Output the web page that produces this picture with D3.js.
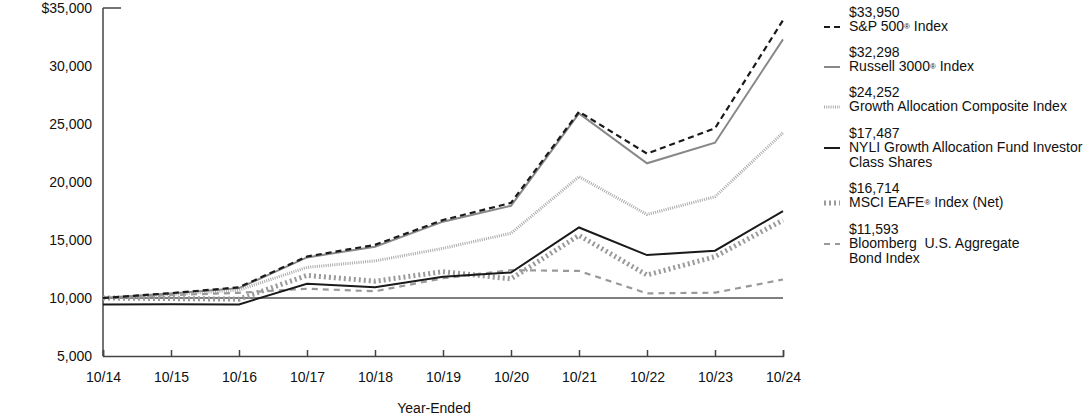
<html>
<head>
<meta charset="utf-8">
<style>
  body { margin: 0; background: #fff; }
  svg text { font-family: "Liberation Sans", Arial, sans-serif; fill: #111; }
</style>
</head>
<body>
<div id="chart"></div>
<script src="https://cdn.jsdelivr.net/npm/d3@7"></script>
<script>
// data
var years = ["10/14", "10/15", "10/16", "10/17", "10/18", "10/19", "10/20", "10/21", "10/22", "10/23", "10/24"]
var sp500 = [10000, 10420, 10920, 13580, 14580, 16720, 18200, 26060, 22450, 24630, 33950]
var russell = [10000, 10380, 10850, 13500, 14420, 16580, 17950, 25920, 21610, 23390, 32298]
var composite = [10000, 10300, 10690, 12640, 13200, 14280, 15580, 20460, 17200, 18730, 24252]
var fund = [9450, 9460, 9450, 11230, 10920, 11840, 12200, 16080, 13700, 14080, 17487]
var eafe = [10000, 9950, 9900, 11950, 11450, 12270, 11650, 15400, 11980, 13560, 16714]
var bond = [10000, 10250, 10450, 10800, 10580, 11700, 12400, 12330, 10400, 10460, 11593]
var yTicks = [5000, 10000, 15000, 20000, 25000, 30000, 35000]

var series = [
  {name: ["Bloomberg\u00a0 U.S. Aggregate", "Bond Index"], sup: null, end: "$11,593", values: bond, color: "#999", width: 2.2, dash: "6,5"},
  {name: ["MSCI EAFE", " Index (Net)"], sup: 0, end: "$16,714", values: eafe, color: "#9a9a9a", width: 5, dash: "2,3"},
  {name: ["Growth Allocation Composite Index"], sup: null, end: "$24,252", values: composite, color: "#aaa", width: 3, dash: "1,1.2"},
  {name: ["NYLI Growth Allocation Fund Investor", "Class Shares"], sup: null, end: "$17,487", values: fund, color: "#1a1a1a", width: 2, dash: null},
  {name: ["Russell 3000", " Index"], sup: 0, end: "$32,298", values: russell, color: "#888", width: 2, dash: null},
  {name: ["S&P 500", " Index"], sup: 0, end: "$33,950", values: sp500, color: "#1a1a1a", width: 2.2, dash: "6,4"}
]
var legendOrder = [5, 4, 2, 3, 1, 0]

var W = 1092, H = 417
var svg = d3.select("#chart").append("svg").attr("width", W).attr("height", H)

var x = d3.scalePoint().domain(years).range([103, 783])
var y = d3.scaleLinear().domain([5000, 35000]).range([356, 8])

// y labels
svg.selectAll(".ylab").data(yTicks).enter().append("text")
  .attr("x", 92).attr("y", d => y(d)).attr("dy", "0.35em")
  .attr("text-anchor", "end").style("font-size", "14px")
  .text(d => (d == 35000 ? "$" : "") + d3.format(",")(d))

// 10,000 baseline
svg.append("line").attr("x1", x(years[0])).attr("x2", x(years[years.length - 1]))
  .attr("y1", y(10000)).attr("y2", y(10000)).attr("stroke", "#555").attr("stroke-width", 1.5)

// axes
var xAxis = d3.axisBottom(x).tickSize(-6).tickPadding(16)
var gx = svg.append("g").attr("transform", "translate(0," + y(5000) + ")").call(xAxis)
gx.select(".domain").attr("stroke", "#444").attr("stroke-width", 1.5)
gx.selectAll(".tick line").attr("stroke", "#444").attr("stroke-width", 1.5)
gx.selectAll(".tick text").style("font-size", "14px").style("font-family", "Liberation Sans, Arial, sans-serif").attr("fill", "#111")

svg.append("line").attr("x1", 103).attr("x2", 103).attr("y1", y(35000)).attr("y2", y(5000))
  .attr("stroke", "#444").attr("stroke-width", 1.5)
svg.append("line").attr("x1", 103).attr("x2", 121).attr("y1", y(35000)).attr("y2", y(35000))
  .attr("stroke", "#444").attr("stroke-width", 1.5)

svg.append("text").attr("x", 434).attr("y", 413).attr("text-anchor", "middle")
  .style("font-size", "14px").text("Year-Ended")

// lines
var line = d3.line().x((d, i) => x(years[i])).y(d => y(d))
series.forEach(function(s) {
  svg.append("path").datum(s.values)
    .attr("fill", "none").attr("stroke", s.color).attr("stroke-width", s.width)
    .attr("stroke-dasharray", s.dash).attr("d", line)
})

// legend
var ly = [12, 52, 92, 133, 188, 229]
legendOrder.forEach(function(k, j) {
  var s = series[k]
  var g = svg.append("g")
  g.append("line").attr("x1", 824).attr("x2", 840).attr("y1", ly[j] + 15).attr("y2", ly[j] + 15)
    .attr("stroke", s.color).attr("stroke-width", s.width).attr("stroke-dasharray", s.dash)
  g.append("text").attr("x", 849).attr("y", ly[j]).attr("dy", "0.35em").style("font-size", "14px").text(s.end)
  if (s.sup === 0) {
    var t = g.append("text").attr("x", 849).attr("y", ly[j] + 14.5).attr("dy", "0.35em").style("font-size", "14px")
    t.append("tspan").text(s.name[0])
    t.append("tspan").attr("baseline-shift", "30%").style("font-size", "8px").text("®")
    t.append("tspan").text(s.name[1])
  } else {
    s.name.forEach(function(n, i) {
      g.append("text").attr("x", 849).attr("y", ly[j] + 14.5 + i * 14.7).attr("dy", "0.35em")
        .style("font-size", "14px").text(n)
    })
  }
})
</script>
</body>
</html>
